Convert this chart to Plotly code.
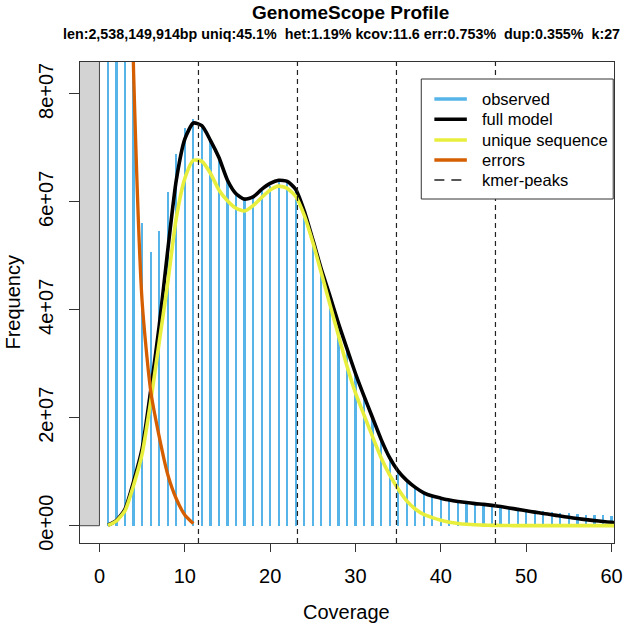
import plotly.graph_objects as go

# ---------------- data ----------------
coverage = list(range(1, 61))
observed_M = [530, 240, 140, 100, 56.1, 50.7, 54.6, 61.9, 68.8, 73.7,
              75.4, 74.0, 71.0, 67.5, 63.8, 61.2, 60.4, 60.8, 62.0, 63.0,
              63.7, 63.6, 62.3, 58.0, 52.8, 47.3, 42.5, 37.3, 32.6, 28.0,
              23.9, 19.8, 15.8, 12.4, 10.0, 8.4, 7.1, 6.0, 5.4, 5.0,
              4.7, 4.45, 4.25, 4.05, 3.9, 3.75, 3.5, 3.25, 3.0, 2.8,
              2.72, 2.65, 2.53, 2.41, 2.28, 2.16, 2.04, 1.98, 1.91, 1.79]

model_x = list(range(1, 62))
full_model_M = [0.1, 1.0, 3.1, 8.2, 14.3, 25.0, 37.0, 51.0, 64.0, 71.6,
                74.6, 74.1, 71.4, 68.2, 64.0, 61.5, 60.5, 60.9, 62.3, 63.4,
                64.0, 63.8, 62.3, 58.3, 53.0, 47.5, 42.6, 37.5, 32.8, 28.2,
                24.0, 20.0, 16.0, 12.6, 10.1, 8.4, 7.1, 6.1, 5.5, 5.1,
                4.75, 4.5, 4.3, 4.1, 3.95, 3.77, 3.55, 3.3, 3.03, 2.78,
                2.52, 2.28, 2.04, 1.8, 1.56, 1.33, 1.13, 0.95, 0.78, 0.63, 0.5]
unique_M = [0.05, 0.9, 2.8, 7.5, 13.3, 23.0, 34.0, 45.0, 57.0, 64.3,
            67.7, 67.5, 65.3, 62.2, 60.2, 58.8, 58.3, 59.3, 60.8, 62.2,
            62.9, 62.5, 61.0, 57.5, 52.5, 46.8, 41.0, 35.3, 29.6, 24.6,
            20.5, 16.5, 12.6, 9.4, 6.8, 4.6, 3.1, 2.1, 1.5, 1.0,
            0.65, 0.42, 0.27, 0.17, 0.11, 0.07, 0.05, 0.03, 0.02, 0.01,
            0.01, 0.01, 0.01, 0.01, 0.01, 0.01, 0.01, 0.01, 0.01, 0.01, 0.01]

error_x = list(range(1, 12))
errors_M = [600, 300, 160, 84, 41.5, 25.0, 16.5, 9.5, 5.0, 2.0, 0.4]

kmer_peaks = [11.6, 23.2, 34.8, 46.4]

x_ticks = [0, 10, 20, 30, 40, 50, 60]
y_ticks = [0, 2e7, 4e7, 6e7, 8e7]
y_ticktext = ["0e+00", "2e+07", "4e+07", "6e+07", "8e+07"]

legend_labels = ["observed", "full model", "unique sequence", "errors", "kmer-peaks"]

title = "GenomeScope Profile"
subtitle = ("len:2,538,149,914bp uniq:45.1%\u00a0\u00a0het:1.19% kcov:11.6 "
            "err:0.753%\u00a0\u00a0dup:0.355%\u00a0\u00a0k:27")

M = 1e6
observed = [v * M for v in observed_M]
full_model = [v * M for v in full_model_M]
unique_seq = [v * M for v in unique_M]
errors = [v * M for v in errors_M]

# ---------------- styling ----------------
C_HIST = "#56B4E9"
C_FULL = "black"
C_UNIQ = "#E8EE3C"
C_ERR = "#D55E00"
FONT = "Liberation Sans, Arial, Helvetica, sans-serif"

W, H = 633, 626
L, R, T, B = 80, 622.5, 62, 543   # plot area in px

def px_x(p):
    return (p - L) / (R - L)

def px_y(p):
    return (B - p) / (B - T)

fig = go.Figure()

fig.add_trace(go.Bar(x=coverage, y=observed, width=0.26,
                     marker=dict(color=C_HIST, line=dict(width=0)),
                     showlegend=False))
fig.add_trace(go.Scatter(x=model_x, y=full_model, mode="lines",
                         line=dict(color=C_FULL, width=3.6, shape="spline", smoothing=0.6),
                         showlegend=False))
fig.add_trace(go.Scatter(x=model_x, y=unique_seq, mode="lines",
                         line=dict(color=C_UNIQ, width=3.6, shape="spline", smoothing=0.6),
                         showlegend=False))
fig.add_trace(go.Scatter(x=error_x, y=errors, mode="lines",
                         line=dict(color=C_ERR, width=3.3, shape="spline", smoothing=0.6),
                         showlegend=False))

shapes = []
# grey excluded region left of 0
shapes.append(dict(type="rect", xref="x", yref="y", x0=-10, x1=0, y0=0, y1=1e9,
                   fillcolor="#D3D3D3", line=dict(color="#444", width=1),
                   layer="below"))
for pk in kmer_peaks:
    shapes.append(dict(type="line", xref="x", yref="paper", x0=pk, x1=pk,
                       y0=0, y1=1, line=dict(color="#222", width=1.2, dash="5px,4px"),
                       layer="above"))

# legend box
shapes.append(dict(type="rect", xref="paper", yref="paper",
                   x0=px_x(426.7), x1=px_x(621.7), y0=px_y(199), y1=px_y(79),
                   fillcolor="white", line=dict(color="#333", width=1), layer="above"))
row_y = [99, 119.3, 140, 160, 180]
sample_styles = [dict(color=C_HIST, width=3.5),
                 dict(color=C_FULL, width=3.5),
                 dict(color=C_UNIQ, width=3.5),
                 dict(color=C_ERR, width=3.5),
                 dict(color="#222", width=1.6, dash="10px,7px")]
annotations = []
for lab, ry, st in zip(legend_labels, row_y, sample_styles):
    shapes.append(dict(type="line", xref="paper", yref="paper",
                       x0=px_x(440), x1=px_x(473), y0=px_y(ry), y1=px_y(ry),
                       line=st, layer="above"))
    annotations.append(dict(text=lab, xref="paper", yref="paper",
                            x=px_x(486.5), y=px_y(ry), xanchor="left", yanchor="middle",
                            showarrow=False, font=dict(family=FONT, size=16.5, color="black")))

annotations.append(dict(text="<b>" + title + "</b>", xref="paper", yref="paper",
                        x=px_x(355), y=px_y(12), xanchor="center", yanchor="middle",
                        showarrow=False, font=dict(family=FONT, size=19, color="black")))
annotations.append(dict(text="<b>" + subtitle + "</b>", xref="paper", yref="paper",
                        x=px_x(346), y=px_y(34), xanchor="center", yanchor="middle",
                        showarrow=False, font=dict(family=FONT, size=14.3, color="black")))
annotations.append(dict(text="Coverage", xref="paper", yref="paper",
                        x=px_x(351), y=px_y(612), xanchor="center", yanchor="middle",
                        showarrow=False, font=dict(family=FONT, size=20, color="black")))
annotations.append(dict(text="Frequency", xref="paper", yref="paper",
                        x=px_x(11), y=px_y(302.5), xanchor="center", yanchor="middle",
                        textangle=-90, showarrow=False,
                        font=dict(family=FONT, size=20, color="black")))

fig.update_layout(
    width=W, height=H,
    margin=dict(l=L, r=W - R, t=T, b=H - B, pad=0),
    paper_bgcolor="white", plot_bgcolor="white",
    font=dict(family=FONT, size=20, color="black"),
    shapes=shapes, annotations=annotations,
    bargap=0, showlegend=False,
    xaxis=dict(range=[-2.28, 60.29], tickvals=x_ticks, ticks="outside", ticklen=8,
               tickwidth=1, tickcolor="#333", showline=True, mirror=True,
               linecolor="#333", linewidth=1, showgrid=False, zeroline=False,
               ticklabelstandoff=7,
               tickfont=dict(family=FONT, size=20, color="black")),
    yaxis=dict(range=[-3.2e6, 85.9e6], tickvals=y_ticks, ticktext=y_ticktext,
               tickangle=-90, ticks="outside", ticklen=10, tickwidth=1,
               tickcolor="#333", showline=True, mirror=True, linecolor="#333",
               linewidth=1, showgrid=False, zeroline=False,
               ticklabelstandoff=8,
               tickfont=dict(family=FONT, size=20, color="black")),
)

fig.write_html("out.html")
